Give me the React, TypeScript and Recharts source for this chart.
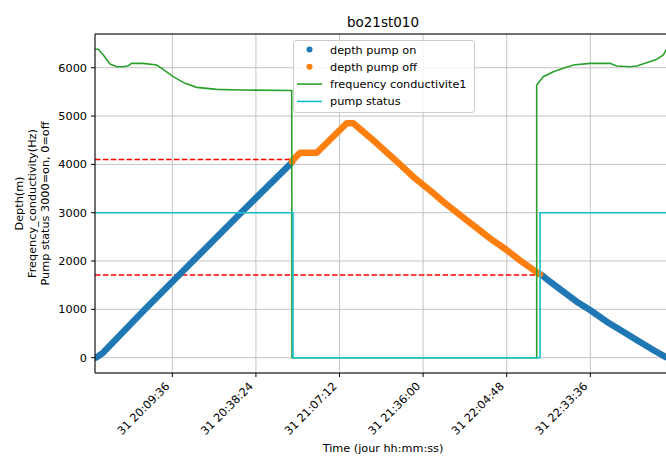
import { CartesianGrid, ComposedChart, Line, ReferenceLine, XAxis, YAxis } from "recharts";

const FONT = "DejaVu Sans, Verdana, sans-serif";

// depth while the pump runs, going down
const ascentTimes = ["19:43:19", "19:45:43", "19:48:08", "20:00:12", "20:16:44", "20:33:16", "20:50:09", "20:50:50"];
const ascentDepth = [0, 100, 250, 1000, 2000, 3000, 4000, 4050];

// depth with pump off
const pumpOffTimes = [
  "20:50:50", "20:51:05", "20:53:36", "20:59:21", "21:09:41", "21:11:57", "21:20:01", "21:28:02",
  "21:33:12", "21:38:57", "21:42:57", "21:48:42", "21:53:53", "21:59:03", "22:04:48", "22:09:58",
  "22:15:41", "22:16:16",
];
const pumpOffDepth = [
  4050, 4088, 4240, 4240, 4850, 4850, 4436, 4000, 3712, 3435, 3228, 2953, 2711, 2470, 2228, 1986,
  1746, 1725,
];

// depth while the pump runs again, coming up
const returnTimes = [
  "22:16:16", "22:16:51", "22:19:43", "22:24:18", "22:28:55", "22:33:30", "22:39:15", "22:44:58",
  "22:49:35", "22:55:18", "22:59:20", "23:00:10",
];
const returnDepth = [1725, 1711, 1573, 1366, 1159, 987, 745, 538, 366, 159, 21, 0];

const freqTimes = [
  "19:42:58", "19:44:06", "19:45:50", "19:48:08", "19:50:27", "19:52:43", "19:54:26", "19:55:37",
  "19:59:36", "20:04:13", "20:05:57", "20:09:56", "20:13:58", "20:18:00", "20:24:54", "20:32:55",
  "20:50:44", "20:50:50", "22:15:08", "22:15:08", "22:17:24", "22:20:51", "22:24:18", "22:27:45",
  "22:33:30", "22:40:23", "22:42:42", "22:47:17", "22:49:35", "22:53:02", "22:56:28", "22:58:45",
  "22:59:41", "23:01:24",
];
const freqValues = [
  6381, 6381, 6263, 6077, 6021, 6021, 6042, 6091, 6091, 6056, 5987, 5815, 5677, 5594, 5553, 5539,
  5530, 0, 0, 5643, 5815, 5918, 5987, 6056, 6091, 6091, 6035, 6021, 6035, 6104, 6174, 6263,
  6367, 6420,
];

const statusTimes = ["19:42:58", "20:51:11", "20:51:11", "22:16:16", "22:16:16", "23:01:24"];
const statusValues = [3000, 3000, 0, 0, 3000, 3000];

const upperLimitTimes = ["19:42:58", "20:50:09"];
const upperLimit = 4100;
const lowerLimitTimes = ["19:42:58", "22:15:08"];
const lowerLimit = 1710;

const xTickTimes = ["20:09:36", "20:38:24", "21:07:12", "21:36:00", "22:04:48", "22:33:36"];
const yTicks = [0, 1000, 2000, 3000, 4000, 5000, 6000];

const legendItems = [
  { label: "depth pump on", color: "#1f77b4", kind: "dot" },
  { label: "depth pump off", color: "#ff7f0e", kind: "dot" },
  { label: "frequency conductivite1", color: "#2ca02c", kind: "line" },
  { label: "pump status", color: "#17becf", kind: "line" },
];

const toSec = (s: string) => {
  const [h, m, sec] = s.split(":").map(Number);
  return h * 3600 + m * 60 + sec;
};

const pad = (n: number) => String(n).padStart(2, "0");
const formatTime = (t: number) =>
  `31 ${pad(Math.floor(t / 3600))}:${pad(Math.floor((t % 3600) / 60))}:${pad(Math.round(t % 60))}`;

const zip = (times: string[], values: number[]) => times.map((t, i) => ({ t: toSec(t), v: values[i] }));

const ascent = zip(ascentTimes, ascentDepth);
const pumpOff = zip(pumpOffTimes, pumpOffDepth);
const ascentReturn = zip(returnTimes, returnDepth);
const freq = zip(freqTimes, freqValues);
const status = zip(statusTimes, statusValues);
const upperLine = upperLimitTimes.map((t) => ({ t: toSec(t), v: upperLimit }));
const lowerLine = lowerLimitTimes.map((t) => ({ t: toSec(t), v: lowerLimit }));

const X_MIN = toSec("19:42:58");
const X_MAX = toSec("23:01:24");
const Y_MIN = -317;
const Y_MAX = 6698;

function TimeTick({ x, payload }: any) {
  return (
    <text
      transform={`translate(${x - 2},387) rotate(-45)`}
      textAnchor="end"
      fontSize={11.25}
      fontFamily={FONT}
      fill="#000"
    >
      {formatTime(payload.value)}
    </text>
  );
}

export default function App() {
  const common = {
    dataKey: "v",
    type: "linear" as const,
    dot: false,
    activeDot: false,
    isAnimationActive: false,
    legendType: "none" as const,
  };

  return (
    <div style={{ position: "absolute", left: 0, top: 0, width: 666, height: 456, overflow: "hidden", background: "#fff" }}>
      <ComposedChart width={680} height={456} margin={{ top: 34, right: 9, bottom: 0, left: 35 }}>
        <CartesianGrid stroke="#c4c4c4" strokeWidth={1} />
        <XAxis
          type="number"
          dataKey="t"
          domain={[X_MIN, X_MAX]}
          allowDataOverflow
          ticks={xTickTimes.map(toSec)}
          tick={<TimeTick />}
          tickSize={4}
          height={83}
          stroke="#000"
          axisLine={{ stroke: "#000" }}
          tickLine={{ stroke: "#000" }}
        />
        <YAxis
          type="number"
          domain={[Y_MIN, Y_MAX]}
          allowDataOverflow
          ticks={yTicks}
          width={60}
          tickSize={4}
          tickMargin={4}
          tick={{ fontSize: 11.25, fill: "#000", fontFamily: FONT }}
          axisLine={{ stroke: "#000" }}
          tickLine={{ stroke: "#000" }}
        />
        <ReferenceLine y={Y_MAX} stroke="#000" />
        <Line {...common} data={upperLine} stroke="#ff0000" strokeWidth={1.6} strokeDasharray="5.5 2.4" />
        <Line {...common} data={lowerLine} stroke="#ff0000" strokeWidth={1.6} strokeDasharray="5.5 2.4" />
        <Line {...common} data={ascent} stroke="#1f77b4" strokeWidth={6.5} strokeLinecap="round" strokeLinejoin="round" />
        <Line {...common} data={ascentReturn} stroke="#1f77b4" strokeWidth={6.5} strokeLinecap="round" strokeLinejoin="round" />
        <Line {...common} data={pumpOff} stroke="#ff7f0e" strokeWidth={6.5} strokeLinecap="round" strokeLinejoin="round" />
        <Line {...common} data={freq} stroke="#2ca02c" strokeWidth={1.6} />
        <Line {...common} data={status} stroke="#17becf" strokeWidth={1.6} />
      </ComposedChart>

      <svg width={666} height={456} style={{ position: "absolute", left: 0, top: 0, pointerEvents: "none" }} fontFamily={FONT}>
        <text x={383} y={27} textAnchor="middle" fontSize={13.5} fill="#000">
          bo21st010
        </text>
        <text x={383} y={452} textAnchor="middle" fontSize={11.25} fill="#000">
          Time (jour hh:mm:ss)
        </text>
        <g transform="translate(0,203.5) rotate(-90)" fontSize={11.25} fill="#000">
          <text x={0} y={22.5} textAnchor="middle">Depth(m)</text>
          <text x={0} y={35.5} textAnchor="middle">Freqency_conductivity(Hz)</text>
          <text x={0} y={48.5} textAnchor="middle">Pump status 3000=on, 0=off</text>
        </g>

        <rect x={293.5} y={40.5} width={181} height={72} rx={3} fill="#fff" fillOpacity={0.8} stroke="#cccccc" />
        {legendItems.map((item, i) => {
          const cy = 49.5 + i * 17.3;
          return (
            <g key={item.label}>
              {item.kind === "dot" ? (
                <circle cx={309.5} cy={cy} r={3} fill={item.color} />
              ) : (
                <line x1={297} y1={cy} x2={322} y2={cy} stroke={item.color} strokeWidth={1.6} />
              )}
              <text x={330} y={cy + 4} fontSize={11.25} fill="#000">
                {item.label}
              </text>
            </g>
          );
        })}
      </svg>
    </div>
  );
}
